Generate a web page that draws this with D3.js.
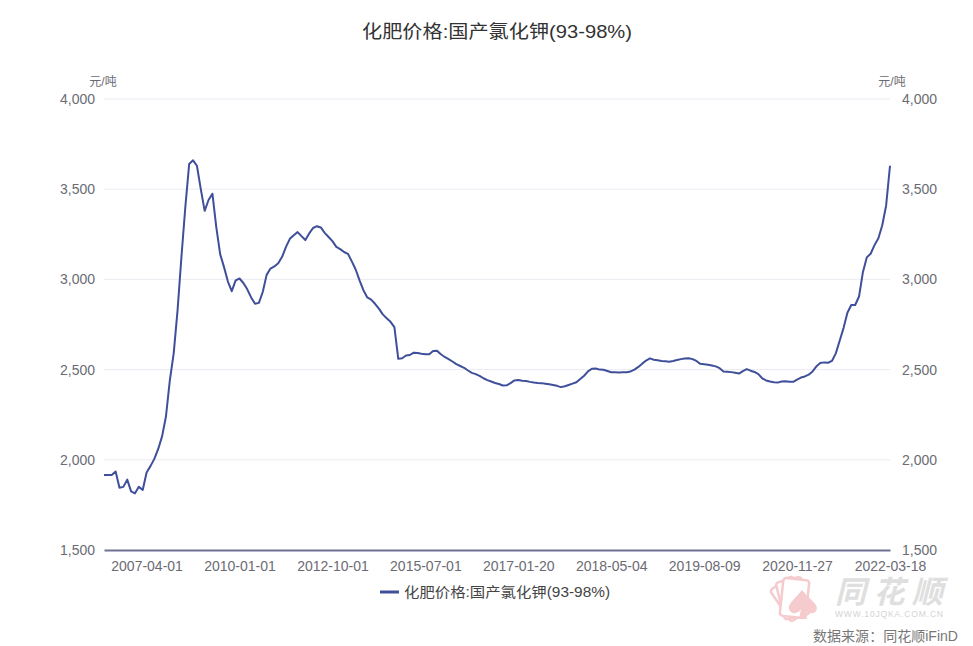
<!DOCTYPE html>
<html><head><meta charset="utf-8">
<script src="https://cdn.jsdelivr.net/npm/d3@7"></script>
<style>
body{margin:0;background:#fff;}
svg{display:block;font-family:"Liberation Sans","Noto Sans CJK SC",sans-serif;}
</style></head>
<body><svg id="c" width="973" height="646"></svg>
<script>
const title = "化肥价格:国产氯化钾(93-98%)";
const seriesName = "化肥价格:国产氯化钾(93-98%)";
const unit = "元/吨";
const xLabels = ["2007-04-01","2010-01-01","2012-10-01","2015-07-01","2017-01-20","2018-05-04","2019-08-09","2020-11-27","2022-03-18"];
const xLabelIdx = [11,35,59,83,107,131,155,179,203];
const yTicks = [1500,2000,2500,3000,3500,4000];
const values = [
1916,1916,1916,1935,1845,1850,1890,1825,1814,1850,
1833,1930,1965,2005,2060,2130,2240,2440,2590,2830,
3125,3400,3640,3660,3630,3500,3380,3440,3475,3290,
3140,3068,2988,2935,2995,3005,2980,2945,2900,2865,
2870,2930,3025,3060,3072,3090,3125,3180,3225,3245,
3262,3240,3218,3255,3285,3295,3288,3258,3235,3212,
3180,3168,3152,3142,3100,3055,2995,2940,2900,2888,
2865,2838,2806,2785,2765,2735,2560,2563,2578,2581,
2594,2592,2588,2585,2585,2603,2605,2585,2570,2558,
2545,2530,2520,2510,2495,2482,2475,2465,2452,2442,
2434,2426,2420,2412,2413,2425,2440,2442,2438,2437,
2432,2428,2426,2425,2422,2419,2415,2410,2403,2408,
2415,2422,2430,2448,2466,2490,2505,2506,2500,2499,
2492,2485,2485,2484,2485,2485,2490,2500,2515,2533,
2550,2562,2555,2552,2548,2546,2544,2548,2553,2558,
2562,2563,2558,2548,2532,2530,2527,2523,2518,2508,
2490,2488,2486,2482,2478,2492,2503,2494,2487,2475,
2452,2440,2434,2430,2428,2434,2436,2433,2432,2445,
2456,2462,2472,2490,2518,2536,2540,2538,2548,2590,
2660,2730,2815,2858,2858,2905,3040,3122,3142,3190,
3228,3300,3410,3630
];

const svg = d3.select("#c");
const W = 973, H = 646;
const m = {left:104, right:83, top:99, bottom:96};
const x = d3.scalePoint().domain(d3.range(values.length)).range([m.left, W - m.right]);
const y = d3.scaleLinear().domain([1500,4000]).range([H - m.bottom, m.top]);
const fmt = d3.format(",");
const lineColor = "#3f4f9a";
const textColor = "#6b6b73";

// title
svg.append("text").attr("x",497).attr("y",38).attr("text-anchor","middle")
  .attr("font-size",18.5).attr("fill","#333").attr("textLength",270).attr("lengthAdjust","spacingAndGlyphs").text(title);

// grid
svg.append("g").selectAll("line").data(yTicks.filter(d=>d>1500)).join("line")
  .attr("x1",m.left).attr("x2",W-m.right).attr("y1",d=>y(d)).attr("y2",d=>y(d))
  .attr("stroke","#ebebf3").attr("stroke-width",1);

// left axis labels
const yl = d3.axisLeft(y).tickValues(yTicks).tickFormat(fmt).tickSize(0).tickPadding(9);
const gl = svg.append("g").attr("transform",`translate(${m.left},0)`).call(yl);
gl.select(".domain").remove();
gl.selectAll("text").attr("fill",textColor).attr("font-size",14);
const yr = d3.axisRight(y).tickValues(yTicks).tickFormat(fmt).tickSize(0).tickPadding(12);
const gr = svg.append("g").attr("transform",`translate(${W-m.right},0)`).call(yr);
gr.select(".domain").remove();
gr.selectAll("text").attr("fill",textColor).attr("font-size",14);

// units
svg.append("text").attr("x",103).attr("y",86).attr("text-anchor","middle").attr("font-size",12).attr("fill",textColor).text(unit);
svg.append("text").attr("x",892).attr("y",86).attr("text-anchor","middle").attr("font-size",12).attr("fill",textColor).text(unit);

// x axis
const xa = d3.axisBottom(x).tickValues(xLabelIdx).tickFormat((d,i)=>xLabels[i]).tickSize(0).tickPadding(11);
const gx = svg.append("g").attr("transform",`translate(0,${H-m.bottom})`).call(xa);
gx.select(".domain").attr("stroke","#6e7091").attr("stroke-width",2);
gx.selectAll("text").attr("fill",textColor).attr("font-size",14);

// line
const line = d3.line().x((d,i)=>x(i)).y(d=>y(d));
svg.append("path").datum(values).attr("d",line).attr("fill","none")
  .attr("stroke",lineColor).attr("stroke-width",2).attr("stroke-linejoin","round");

// legend
svg.append("line").attr("x1",380).attr("x2",399).attr("y1",592).attr("y2",592)
  .attr("stroke",lineColor).attr("stroke-width",3);
svg.append("text").attr("x",404).attr("y",597).attr("font-size",14).attr("fill","#444")
  .attr("textLength",206).attr("lengthAdjust","spacingAndGlyphs").text(seriesName);

// watermark
const wm = svg.append("g").attr("opacity",0.9);
const pink = "#f5c6c8";
[-34,-14,6].forEach(a=>{
  wm.append("rect").attr("x",-13).attr("y",-24).attr("width",26).attr("height",38).attr("rx",3)
    .attr("fill","#fff").attr("stroke",pink).attr("stroke-width",2.5)
    .attr("transform",`translate(794,603) rotate(${a})`);
});
wm.append("path").attr("d","M802,590 C794,600 786,605 790,611 C793,615 799,613 801,609 L799,619 L807,619 L805,609 C807,613 813,615 816,611 C820,605 810,600 802,590Z")
  .attr("fill",pink);
wm.append("text").attr("x",835).attr("y",603).attr("font-size",31).attr("font-style","italic").attr("font-weight","bold")
  .attr("fill","#dcdcdc").attr("textLength",108).text("同花顺");
wm.append("text").attr("x",835).attr("y",617).attr("font-size",8.5).attr("fill","#cfcfcf").attr("textLength",108).text("WWW.10JQKA.COM.CN");

svg.append("text").attr("x",958).attr("y",641).attr("text-anchor","end").attr("font-size",14).attr("fill","#777")
  .attr("textLength",145).attr("lengthAdjust","spacingAndGlyphs").text("数据来源：同花顺iFinD");
</script></body></html>
